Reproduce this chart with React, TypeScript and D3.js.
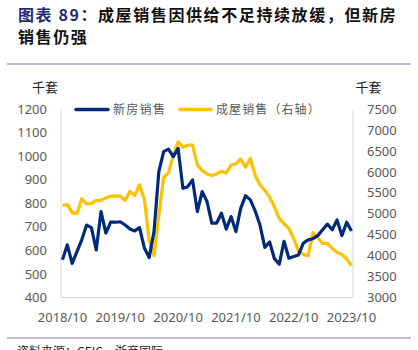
import React from 'react';
import * as d3 from 'd3';

// 月份：2018/10 – 2023/10
const months: string[] = d3.range(61).map(i => {
  const y = 2018 + Math.floor((9 + i) / 12);
  const m = ((9 + i) % 12) + 1;
  return `${y}/${m}`;
});

// 新房销售（千套，左轴）
const newHomeSales = [
  560, 624, 545, 595, 645, 708, 697, 602, 765, 674, 720, 720, 722, 708, 691, 683,
  697, 610, 570, 680, 935, 1020, 1031, 999, 1034, 864, 871, 900, 765, 850, 808, 716,
  716, 758, 691, 744, 680, 779, 833, 815, 768, 708, 613, 636, 565, 542, 639, 567,
  574, 581, 631, 645, 650, 663, 688, 712, 688, 730, 663, 720, 683,
];

// 成屋销售（千套，右轴）
const existingHomeSales = [
  5204, 5220, 5030, 5006, 5362, 5236, 5244, 5323, 5323, 5378, 5425, 5425, 5425, 5323,
  5536, 5441, 5695, 5346, 4372, 3999, 4966, 5876, 5979, 6391, 6723, 6589, 6644, 6644,
  6169, 6034, 5955, 5915, 5955, 6018, 5979, 6169, 6193, 6312, 6114, 6328, 5915, 5695,
  5560, 5401, 5164, 4887, 4768, 4649, 4411, 4110, 4031, 3999, 4554, 4428, 4293, 4293,
  4174, 4079, 4031, 3920, 3761,
];

const xTickLabels = ['2018/10', '2019/10', '2020/10', '2021/10', '2022/10', '2023/10'];
const leftTicks = d3.range(400, 1201, 100);
const rightTicks = d3.range(3000, 7501, 500);

const BLUE = '#002a7a';
const GOLD = '#ffc000';
const GREY = '#595959';
const CJK = '"Noto Sans CJK SC", "Noto Sans", sans-serif';

export default function App() {
  const left = 61, right = 353, top = 109.3, bottom = 297.5;

  const x = d3.scalePoint<string>().domain(months).range([62.5, 351.5]);
  const yL = d3.scaleLinear().domain([400, 1200]).range([bottom, top]);
  const yR = d3.scaleLinear().domain([3000, 7500]).range([bottom, top]);

  const lineL = d3.line<number>()
    .x((_, i) => x(months[i]) as number)
    .y(d => yL(d));
  const lineR = d3.line<number>()
    .x((_, i) => x(months[i]) as number)
    .y(d => yR(d));

  return (
    <svg width={418} height={350} style={{ position: 'absolute', left: 0, top: 0, background: '#fff' }}>
      {/* 标题 */}
      <text x={18} y={21} fontFamily={CJK} fontSize={16} fontWeight="bold" letterSpacing={1.6}>
        <tspan fill="#1f2a7a">图表 89：</tspan>
        <tspan x={98} fill="#111">成屋销售因供给不足持续放缓，但新房</tspan>
      </text>
      <text x={18} y={43} fontFamily={CJK} fontSize={16} fontWeight="bold" letterSpacing={1.6} fill="#111">
        销售仍强
      </text>
      <line x1={7} x2={411} y1={64} y2={64} stroke="#a9a7cc" strokeWidth={1.3} />

      {/* 单位 */}
      <text x={45} y={92} textAnchor="middle" fontFamily={CJK} fontSize={13} fill="#222">千套</text>
      <text x={368.5} y={92} textAnchor="middle" fontFamily={CJK} fontSize={13} fill="#222">千套</text>

      {/* 坐标框 */}
      <line x1={left} x2={left} y1={top} y2={bottom} stroke="#d9d9d9" strokeWidth={1} />
      <line x1={right} x2={right} y1={top} y2={bottom} stroke="#d9d9d9" strokeWidth={1} />
      <line x1={left} x2={right} y1={bottom} y2={bottom} stroke="#d9d9d9" strokeWidth={1} />

      {leftTicks.map(t => (
        <text key={t} x={47} y={yL(t)} dy="0.35em" textAnchor="end" fontFamily="Noto Sans, sans-serif" fontSize={13} fill={GREY}>{t}</text>
      ))}
      {rightTicks.map(t => (
        <text key={t} x={367} y={yR(t)} dy="0.35em" textAnchor="start" fontFamily="Noto Sans, sans-serif" fontSize={13} fill={GREY}>{t}</text>
      ))}
      {xTickLabels.map(t => {
        const [yy, mm] = t.split('/');
        const key = `${yy}/${+mm}`;
        return (
          <text key={t} x={x(key) as number} y={322} textAnchor="middle" fontFamily="Noto Sans, sans-serif" fontSize={13} fill={GREY}>{t}</text>
        );
      })}

      {/* 数据线 */}
      <path d={lineR(existingHomeSales) || ''} fill="none" stroke={GOLD} strokeWidth={3.2} strokeLinejoin="round" />
      <path d={lineL(newHomeSales) || ''} fill="none" stroke={BLUE} strokeWidth={3.2} strokeLinejoin="round" />

      {/* 图例 */}
      <line x1={76} x2={108} y1={109.5} y2={109.5} stroke={BLUE} strokeWidth={3.5} strokeLinecap="round" />
      <text x={113} y={109.5} dy="0.35em" fontFamily={CJK} fontSize={12} letterSpacing={1.3} fill={GREY}>新房销售</text>
      <line x1={180} x2={211} y1={109.5} y2={109.5} stroke={GOLD} strokeWidth={3.5} strokeLinecap="round" />
      <text x={216} y={109.5} dy="0.35em" fontFamily={CJK} fontSize={12} letterSpacing={1.1} fill={GREY}>成屋销售（右轴）</text>

      <line x1={7} x2={411} y1={338} y2={338} stroke="#a9a7cc" strokeWidth={1.3} />
      <text x={17} y={356} fontFamily={CJK} fontSize={12} fill="#222">资料来源：CEIC，浙商国际</text>
    </svg>
  );
}
